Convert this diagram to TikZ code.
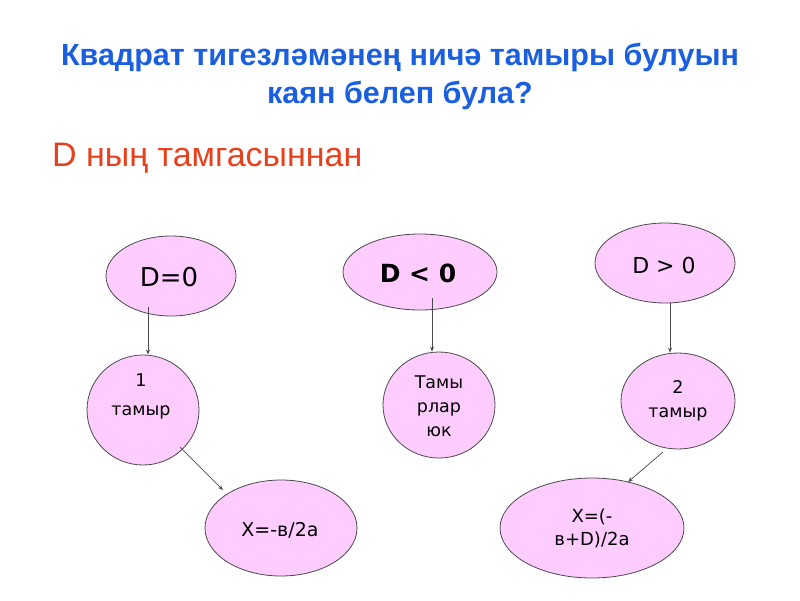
\documentclass[tikz,border=0pt]{standalone}
\usepackage{fontspec}
\setmainfont{Liberation Sans}
\newfontfamily\nodefont{DejaVu Sans}
\usetikzlibrary{arrows.meta,shapes.geometric}
\definecolor{titleblue}{HTML}{1A5FE0}
\definecolor{subred}{HTML}{E8401C}
\definecolor{pinkfill}{HTML}{FFCCFF}
\definecolor{edgegray}{HTML}{4A4A4A}
\tikzset{
  bubble/.style={ellipse, draw=edgegray, line width=0.8pt, fill=pinkfill, inner sep=0pt},
  btext/.style={align=center, inner sep=0pt, font=\nodefont\fontsize{17.5}{24}\selectfont},
  link/.style={draw=edgegray, line width=0.7pt, -{Stealth[length=5pt,width=4pt]}}
}
\begin{document}
\begin{tikzpicture}[x=1pt,y=-1pt]
\useasboundingbox (0,0) rectangle (800,600);
\node[font=\fontsize{30.5}{38}\bfseries, text=titleblue, align=center] (title) at (400,76)
  {Квадрат тигезләмәнең ничә тамыры булуын\\каян белеп була?};
\node[font=\fontsize{34}{38}\selectfont, text=subred, anchor=west, inner sep=0pt] (sub) at (52,158) {D ның тамгасыннан};

\node[bubble, minimum width=130pt, minimum height=80pt] (d0) at (171,276) {};
\node[bubble, minimum width=154pt, minimum height=76pt] (dl) at (420,272) {};
\node[bubble, minimum width=140pt, minimum height=80pt] (dg) at (665,263) {};
\node[bubble, minimum width=112pt, minimum height=110pt] (r1) at (143,410) {};
\node[bubble, minimum width=112pt, minimum height=106pt] (r0) at (439,405) {};
\node[bubble, minimum width=114pt, minimum height=96pt] (r2) at (678,401) {};
\node[bubble, minimum width=152pt, minimum height=96pt] (x1) at (281,528) {};
\node[bubble, minimum width=184pt, minimum height=100pt] (x2) at (592,528) {};

\node[btext, font=\nodefont\fontsize{26}{30}\selectfont] (t1) at (169,277) {D=0};
\node[btext, font=\nodefont\bfseries\fontsize{25}{30}\selectfont] (t2) at (418,273) {D < 0};
\node[btext, font=\nodefont\fontsize{22}{26}\selectfont] (t3) at (664,265) {D > 0};
\node[btext, font=\nodefont\fontsize{17.5}{29}\selectfont] (t4) at (141,396) {1\\тамыр};
\node[btext] (t5) at (439,406) {Тамы\\рлар\\юк};
\node[btext] (t6) at (678,401) {2\\тамыр};
\node[btext, font=\nodefont\fontsize{19}{24}\selectfont] (t7) at (280,530) {X=-в/2а};
\node[btext, font=\nodefont\fontsize{18}{23}\selectfont] (t8) at (592,528) {X=(-\\в+D)/2а};

\coordinate (s1) at (148,307);
\coordinate (s2) at (432,298);
\coordinate (s3) at (670,303);
\coordinate (s4) at (180,447);
\coordinate (s5) at (663,452);
\draw[link] (s1) -- (s1 |- r1.north);
\draw[link] (s2) -- (s2 |- r0.north);
\draw[link] (s3) -- (s3 |- r2.north);
\draw[link] (s4) -- (223,490) coordinate (e4);
\draw[link] (s5) -- (628,482) coordinate (e5);
\end{tikzpicture}
\end{document}
